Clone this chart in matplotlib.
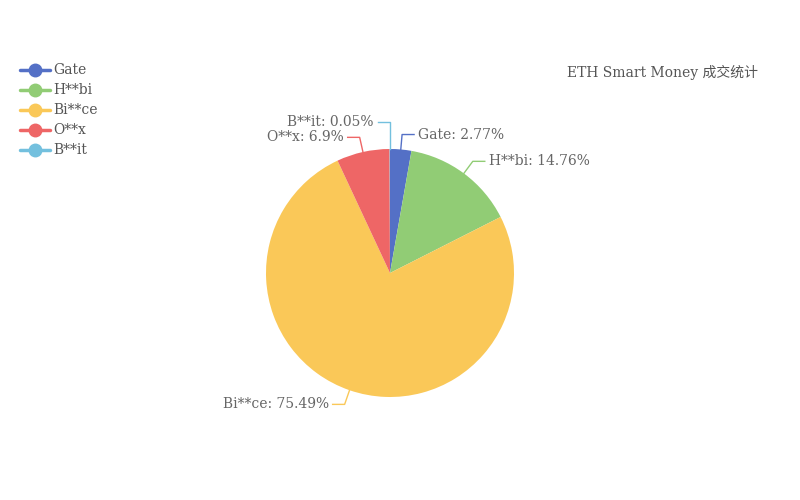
import numpy as np
import matplotlib
matplotlib.use("Agg")
import matplotlib.pyplot as plt

plt.rcParams['font.family'] = ['DejaVu Serif', 'Noto Sans CJK SC']

names = ['Gate', 'H**bi', 'Bi**ce', 'O**x', 'B**it']
values = [2.77, 14.76, 75.49, 6.9, 0.05]
colors = ['#5470c6', '#91cc75', '#fac858', '#ee6666', '#73c0de']
title = 'ETH Smart Money 成交统计'

W, H = 800, 500
fig = plt.figure(figsize=(8, 5), dpi=100)
ax = fig.add_axes([0, 0, 1, 1])

cx, cy, R = 390, 227, 124
wedges, _ = ax.pie(values, colors=colors, startangle=90, counterclock=False,
                   center=(cx, cy), radius=R, frame=True,
                   wedgeprops=dict(linewidth=0))
ax.set_xlim(0, W)
ax.set_ylim(0, H)
ax.set_aspect('equal')
ax.axis('off')

# labels with elbow leader lines
for i, w in enumerate(wedges):
    ang = np.deg2rad((w.theta1 + w.theta2) / 2)
    x0, y0 = cx + R * np.cos(ang), cy + R * np.sin(ang)
    x1, y1 = cx + (R + 15) * np.cos(ang), cy + (R + 15) * np.sin(ang)
    side = 1 if np.cos(ang) >= 0 else -1
    if names[i] == 'B**it':
        # pushed up to avoid overlapping O**x label
        x1, y1 = x0, y1 + 12
        side = -1
    x2 = x1 + side * 12
    ax.plot([x0, x1, x2], [y0, y1, y1], color=colors[i], lw=1)
    txt = f'{names[i]}: {values[i]:g}%'
    ax.text(x2 + side * 4, y1, txt, ha='left' if side > 0 else 'right',
            va='center', fontsize=10, color='#666666')

# legend
for i, n in enumerate(names):
    ly = H - (70 + 20 * i)
    ax.plot([20, 50], [ly, ly], color=colors[i], lw=2.5, solid_capstyle='round')
    ax.plot(35, ly, 'o', color=colors[i], markersize=9)
    ax.text(53, ly, n, ha='left', va='center', fontsize=10, color='#555555')

ax.text(758, H - 72, title, ha='right', va='center', fontsize=10, color='#555555')

fig.savefig('out.png', dpi=100)
